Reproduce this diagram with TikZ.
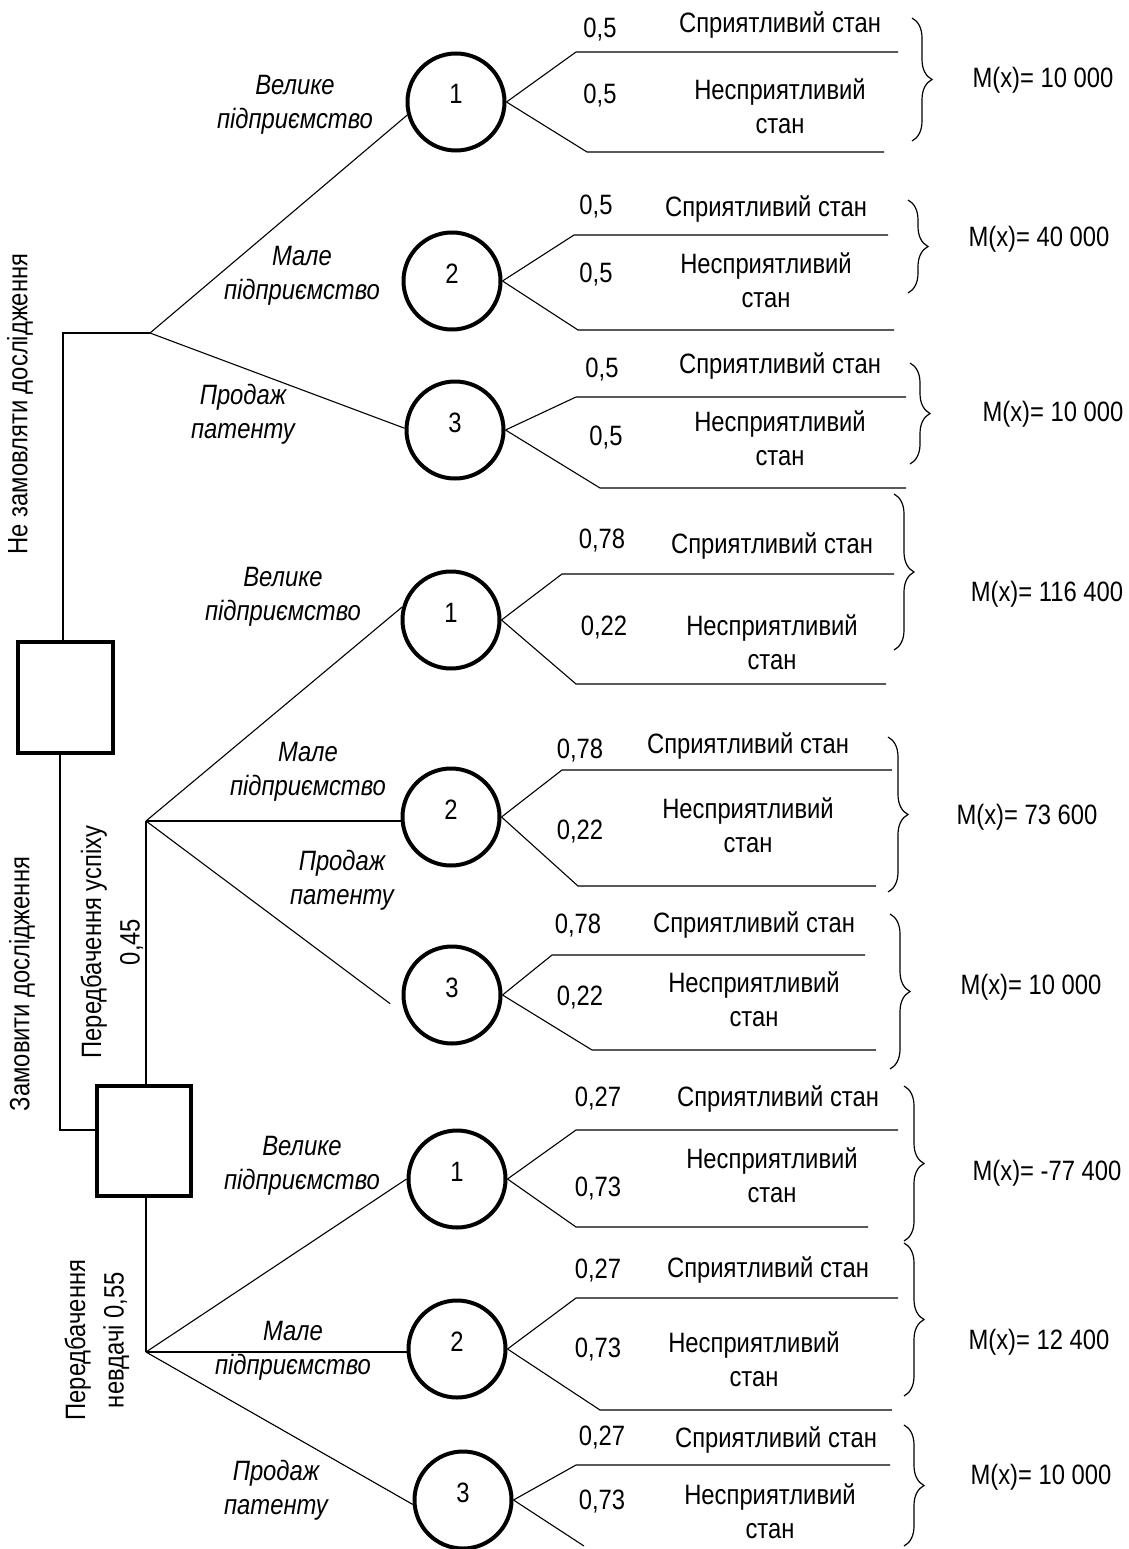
\documentclass[tikz,border=0pt]{standalone}
\usepackage{fontspec}
\setmainfont{Liberation Sans}[FakeStretch=0.85]
\usetikzlibrary{decorations.pathreplacing}
\begin{document}
\begin{tikzpicture}[x=1pt,y=-1pt,
  every node/.style={font=\fontsize{28}{33.5}\selectfont, inner sep=0pt},
  chance/.style={circle, draw, line width=4pt, minimum size=97pt, text height=20pt, text depth=16pt},
  decision/.style={rectangle, draw, line width=4pt},
  conn/.style={line width=1.1pt},
  act/.style={font=\fontsize{28}{34}\selectfont\itshape, align=center},
  lbl/.style={align=center},
  rot/.style={rotate=90, align=center, font=\fontsize{28}{38.5}\selectfont},
  br/.style={decorate, decoration={brace, amplitude=20pt}, line width=1.2pt}
]
\useasboundingbox (0,0) rectangle (1128,1549);

% decision nodes
\node[decision, minimum width=95pt, minimum height=111pt] (D1) at (65.5,697.5) {};
\node[decision, minimum width=94pt, minimum height=110pt] (D2) at (144,1141) {};

% chance nodes
\node[chance] (A1) at (456,102) {1};
\node[chance] (A2) at (452,281) {2};
\node[chance] (A3) at (455,430) {3};
\node[chance] (B1) at (451,620) {1};
\node[chance] (B2) at (451,817) {2};
\node[chance] (B3) at (452,995) {3};
\node[chance] (C1) at (457,1179) {1};
\node[chance] (C2) at (457,1349) {2};
\node[chance] (C3) at (463,1500) {3};

% branch points
\coordinate (bA) at (150,333);
\coordinate (bB) at (146,821);
\coordinate (bC) at (146,1352);

% left structure
\draw[conn] ([xshift=-2.5pt]D1.north) |- (bA);
\draw[conn] ([xshift=-5.5pt]D1.south) |- ([yshift=11pt]D2.west);
\draw[conn] (D2.north -| bB) -- (bB);
\draw[conn] (D2.south -| bC) -- (bC);

% branches to chance nodes
\draw[conn] (bA) -- (A1.195);
\draw[conn] (bA) -- (A3.178);
\draw[conn] (bB) -- (B1.165);
\draw[conn] (bB) -- (bB -| B2.west);
\draw[conn] (bB) -- ([xshift=-12pt]B3.190);
\draw[conn] (bC) -- (C1.west);
\draw[conn] (bC) -- (bC -| C2.west);
\draw[conn] (bC) -- (C3.185);

% outcome lines
\foreach \n/\tx/\ty/\te/\bx/\by/\be in {
  A1/576/52/898/587/152/884,
  A2/574/235/888/578/330/894,
  A3/576/397/906/600/488/906,
  B1/562/574/894/576/684/886,
  B2/562/770/892/578/886/876,
  B3/552/955/865/592/1050/876,
  C1/576/1130/898/576/1227/868,
  C2/576/1298/898/600/1410/892,
  C3/576/1465/890/584/1546/584}{
  \coordinate (\n t) at (\tx,\ty);
  \coordinate (\n te) at (\te,\ty);
  \coordinate (\n b) at (\bx,\by);
  \coordinate (\n be) at (\be,\by);
  \draw[conn] (\n.east) -- (\n t) -- (\n te);
  \draw[conn] (\n.east) -- (\n b) -- (\n be);
}

% probabilities
\foreach [count=\i] \x/\y/\t in {
  600/30/{0,5}, 600/96/{0,5},
  596/207/{0,5}, 596/275/{0,5},
  602/370/{0,5}, 606/438/{0,5},
  602/541/{0,78}, 604/628/{0,22},
  580/751/{0,78}, 580/832/{0,22},
  578/926/{0,78}, 580/998/{0,22},
  598/1099/{0,27}, 598/1189/{0,73},
  598/1270/{0,27}, 598/1349/{0,73},
  602/1437/{0,27}, 602/1501/{0,73}}{
  \node (p\i) at (\x,\y) {\t};
}

% states
\foreach [count=\i] \x/\y/\u/\v in {
  780/25/780/106,
  766/209/766/280,
  780/366/780/438,
  772/546/772/642,
  748/746/748/825,
  754/925/754/999,
  778/1099/772/1175,
  768/1270/754/1359,
  776/1440/770/1511}{
  \node (s\i) at (\x,\y) {Сприятливий стан};
  \node[lbl] (n\i) at (\u,\v) {Несприятливий\\стан};
}

% braces
\foreach \x/\a/\b in {912/18/141, 908/200/293, 910/363/464, 894/494/650,
  888/737/892, 890/914/1069, 904/1086/1241, 904/1243/1396, 904/1425/1546}{
  \draw[br] (\x,\a) -- (\x,\b);
}

% expected values
\foreach [count=\i] \x/\y/\t in {
  1043/80/{10 000}, 1039/239/{40 000}, 1053/414/{10 000},
  1047/594/{116 400}, 1027/817/{73 600}, 1031/987/{10 000},
  1047/1173/{-77 400}, 1039/1342/{12 400}, 1041/1477/{10 000}}{
  \node (m\i) at (\x,\y) {M(x)= \t};
}

% action labels
\node[act] (a1) at (295,105) {Велике\\підприємство};
\node[act] (a2) at (302,276) {Мале\\підприємство};
\node[act] (a3) at (243,414) {Продаж\\патенту};
\node[act] (a4) at (283,597) {Велике\\підприємство};
\node[act] (a5) at (308,772) {Мале\\підприємство};
\node[act] (a6) at (342,880) {Продаж\\патенту};
\node[act] (a7) at (302,1166) {Велике\\підприємство};
\node[act] (a8) at (293,1351) {Мале\\підприємство};
\node[act] (a9) at (276,1490) {Продаж\\патенту};

% rotated labels
\node[rot] (r1) at (20,404) {Не замовляти дослідження};
\node[rot] (r2) at (22,984) {Замовити дослідження};
\node[rot] (r3) at (112,942) {Передбачення успіху\\0,45};
\node[rot] (r4) at (97,1340) {Передбачення\\невдачі 0,55};
\end{tikzpicture}
\end{document}
